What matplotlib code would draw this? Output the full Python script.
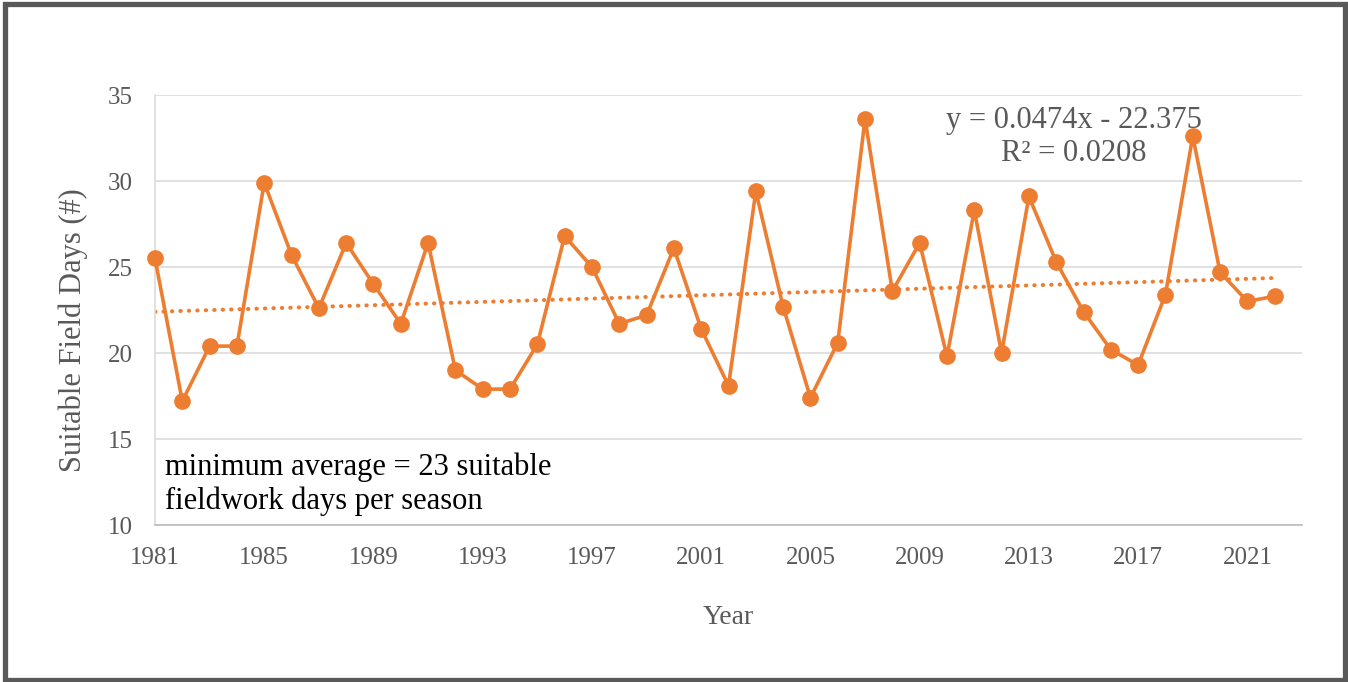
import matplotlib
matplotlib.use('Agg')
import matplotlib.pyplot as plt
import numpy as np
from matplotlib.patches import Rectangle

# suitable field days per season
years = list(range(1981, 2023))
field_days = [25.5, 17.2, 20.4, 20.4, 29.9, 25.7, 22.6, 26.4, 24.0, 21.7,
	26.4, 19.0, 17.9, 17.9, 20.5, 26.8, 25.0, 21.7, 22.2, 26.1,
	21.4, 18.1, 29.4, 22.7, 17.4, 20.6, 33.6, 23.6, 26.4, 19.8,
	28.3, 20.0, 29.1, 25.3, 22.4, 20.2, 19.3, 23.4, 32.6, 24.7,
	23.0, 23.3]
x_ticks = list(range(1981, 2022, 4))
y_ticks = [10, 15, 20, 25, 30, 35]
equation_text = "y = 0.0474x - 22.375\nR\u00b2 = 0.0208"
note_text = "minimum average = 23 suitable\nfieldwork days per season"

orange = '#ED7D31'
grey_text = '#595959'

plt.rcParams['font.family'] = ['Liberation Serif', 'DejaVu Serif']

def show_chart():
	fig = plt.figure(figsize=(13.48, 6.82), dpi=100)
	ax = fig.add_axes([155 / 1348, 1 - 525 / 682, 1147 / 1348, 430 / 682])

	ax.set_xlim(1981, 2023)
	ax.set_ylim(10, 35)
	ax.set_xticks(x_ticks)
	ax.set_yticks(y_ticks)
	ax.tick_params(length=0, pad=16, labelsize=18, labelcolor=grey_text)
	ax.grid(axis='y', color='#d9d9d9', linewidth=1.1)
	ax.set_axisbelow(True)

	for spine in ['top', 'right']:
		ax.spines[spine].set_visible(False)
	ax.spines['left'].set_color('#d9d9d9')
	ax.spines['left'].set_linewidth(1.1)
	ax.spines['bottom'].set_color('#bfbfbf')
	ax.spines['bottom'].set_linewidth(1.3)

	ax.plot(years, field_days, color=orange, linewidth=2.6, marker='o',
		markersize=11, clip_on=False, zorder=3)

	# linear trendline
	slope, intercept = np.polyfit(years, field_days, 1)
	trend_x = np.array([years[0], years[-1]])
	ax.plot(trend_x, slope * trend_x + intercept, color=orange, linewidth=2.9,
		linestyle=(0, (0.1, 2.0)), dash_capstyle='round', zorder=2)

	ax.text(0.801, 0.902, equation_text, transform=ax.transAxes, ha='center',
		va='center', multialignment='center', fontsize=22, color=grey_text)
	ax.text(0.0087, 0.168, note_text, transform=ax.transAxes, ha='left',
		va='top', fontsize=22, color='black')

	ax.set_xlabel('Year', fontsize=20, color=grey_text, labelpad=26)
	ax.set_ylabel('Suitable Field Days (#)', fontsize=22, color=grey_text)
	ax.yaxis.set_label_coords(-0.058, 0.453)

	# dark frame around the whole figure
	fig.patches.append(Rectangle((4.5 / 1348, 2.5 / 682), 1340 / 1348, 676 / 682,
		transform=fig.transFigure, fill=False, edgecolor=grey_text, linewidth=3.8))

	fig.savefig('out.png', dpi=100)

show_chart()
